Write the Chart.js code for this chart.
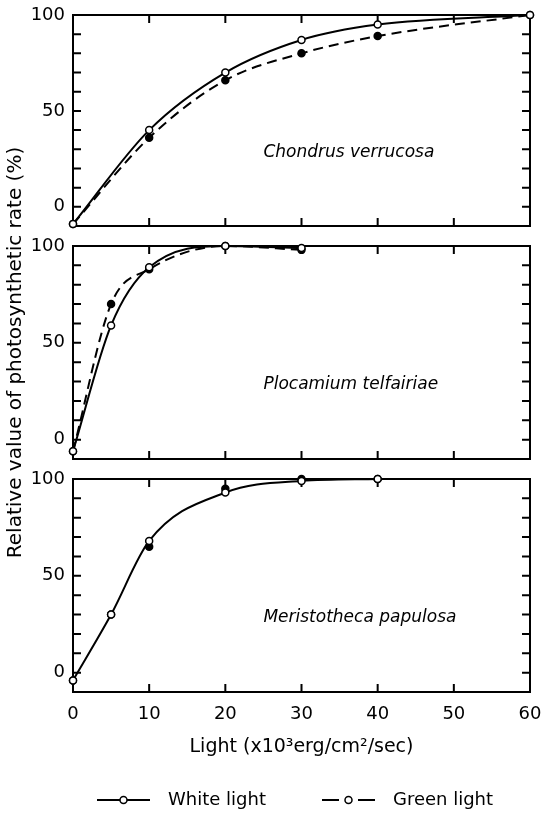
<!DOCTYPE html>
<html><head><meta charset="utf-8">
<script src="https://cdn.jsdelivr.net/npm/chart.js@4"></script>
<style>
html,body{margin:0;padding:0;background:#fff;}
#wrap{position:relative;width:541px;height:814px;overflow:hidden;}
#wrap canvas{position:absolute;left:0;top:0;}
</style></head><body>
<div id="wrap">
<canvas id="c1" width="541" height="814"></canvas>
<canvas id="c2" width="541" height="814"></canvas>
<canvas id="c3" width="541" height="814"></canvas>
<canvas id="c4" width="541" height="814"></canvas>
</div>
<script>
// ---- data ----
const lightChondrus = [0, 10, 20, 30, 40, 60];
const whiteChondrus = [-9, 40, 70, 87, 95, 100];
const greenChondrus = [-9, 36, 66, 80, 89, 100];

const lightPlocamium = [0, 5, 10, 20, 30];
const whitePlocamium = [-6, 59, 89, 100, 99];
const greenPlocamium = [-6, 70, 88, 100, 98];

const lightMeristotheca = [0, 5, 10, 20, 30, 40];
const whiteMeristotheca = [-4, 30, 68, 93, 99, 100];
const greenMeristotheca = [-4, 30, 65, 95, 100, 100];

const xTicks = [0, 10, 20, 30, 40, 50, 60];
const yTickLabels = [0, 50, 100];
const seriesNames = ['White light', 'Green light'];
const speciesNames = ['Chondrus verrucosa', 'Plocamium telfairiae', 'Meristotheca papulosa'];
const xTitle = 'Light (x10\u00B3erg/cm\u00B2/sec)';
const yTitle = 'Relative value of photosynthetic rate (%)';

// ---- helpers ----
Chart.defaults.font.family = '"DejaVu Sans", sans-serif';
Chart.defaults.color = '#000';

const zip = (xs, ys) => xs.map((x, i) => ({x: x, y: ys[i]}));

const framePlugin = {
  id: 'frame',
  beforeDatasetsDraw(chart) {
    const {ctx, chartArea: a, scales} = chart;
    const x = scales.x, y = scales.y;
    const L = 8;
    ctx.save();
    ctx.strokeStyle = '#000';
    ctx.lineWidth = 2;
    ctx.strokeRect(a.left, a.top, a.right - a.left, a.bottom - a.top);
    ctx.beginPath();
    y.ticks.forEach(t => {
      if (t.value > y.min && t.value < y.max) {
        const py = y.getPixelForValue(t.value);
        ctx.moveTo(a.left, py); ctx.lineTo(a.left + L, py);
        ctx.moveTo(a.right, py); ctx.lineTo(a.right - L, py);
      }
    });
    xTicks.forEach(v => {
      if (v > x.min && v < x.max) {
        const px = x.getPixelForValue(v);
        ctx.moveTo(px, a.top); ctx.lineTo(px, a.top + L);
        ctx.moveTo(px, a.bottom); ctx.lineTo(px, a.bottom - L);
      }
    });
    ctx.stroke();
    ctx.restore();
  }
};

const speciesPlugin = {
  id: 'species',
  afterDatasetsDraw(chart, args, opts) {
    if (!opts || !opts.text) return;
    const {ctx, scales} = chart;
    ctx.save();
    ctx.font = 'italic 17px "DejaVu Sans"';
    ctx.fillStyle = '#000';
    ctx.textAlign = 'left';
    ctx.textBaseline = 'middle';
    ctx.fillText(opts.text, scales.x.getPixelForValue(opts.x), scales.y.getPixelForValue(opts.y));
    ctx.restore();
  }
};

function symbolCanvas(dashed) {
  const c = document.createElement('canvas');
  c.width = 98; c.height = 12;
  const g = c.getContext('2d');
  g.strokeStyle = '#000';
  g.lineWidth = 2;
  g.beginPath();
  if (dashed) {
    g.moveTo(36, 6); g.lineTo(53, 6);
    g.moveTo(72, 6); g.lineTo(89, 6);
  } else {
    g.moveTo(36, 6); g.lineTo(89, 6);
  }
  g.stroke();
  g.beginPath();
  g.arc(62.5, 6, 3.5, 0, Math.PI * 2);
  g.fillStyle = '#fff';
  g.fill();
  g.lineWidth = 1.5;
  g.stroke();
  return c;
}

function makeDatasets(xs, white, green, greenLine) {
  const common = {
    borderColor: '#000', borderWidth: 2, pointRadius: 3.5, pointBorderWidth: 1.5,
    pointBorderColor: '#000', cubicInterpolationMode: 'monotone', clip: false, fill: false
  };
  return [
    Object.assign({}, common, {label: seriesNames[0], data: zip(xs, white), pointBackgroundColor: '#fff'}),
    Object.assign({}, common, {label: seriesNames[1], data: zip(xs, green), pointBackgroundColor: '#000',
      borderDash: [10, 6], showLine: greenLine})
  ];
}

function makeChart(id, cfg) {
  const yScale = {
    type: 'linear', position: 'left', min: -10, max: 100,
    grid: {display: false, drawTicks: false}, border: {display: false},
    ticks: {stepSize: 10, autoSkip: false, padding: 8, font: {size: 18}, color: '#000',
      callback: v => yTickLabels.includes(v) ? String(v) : ''},
    title: cfg.yTitle ? {display: true, text: yTitle, font: {size: 20}, color: '#000', padding: {top: 4, bottom: 0}} : {display: false},
    afterFit: s => { s.width = 73; s.paddingTop = 0; s.paddingBottom = 0; }
  };
  const xScale = {
    type: 'linear', position: 'bottom', min: 0, max: 60,
    grid: {display: false, drawTicks: false}, border: {display: false},
    ticks: {display: cfg.showX, stepSize: 10, autoSkip: false, maxRotation: 0, padding: 12, font: {size: 18}, color: '#000'},
    title: cfg.showX ? {display: true, text: xTitle, font: {size: 19}, color: '#000', padding: {top: 0, bottom: 13}} : {display: false},
    afterFit: s => { s.height = cfg.xHeight; s.paddingLeft = 0; s.paddingRight = 0; }
  };
  return new Chart(document.getElementById(id), {
    type: 'line',
    data: {datasets: cfg.datasets},
    options: {
      responsive: false, animation: false, events: [],
      layout: {padding: cfg.padding},
      scales: {x: xScale, y: yScale},
      plugins: {
        tooltip: {enabled: false},
        legend: {display: false},
        species: cfg.species
      }
    },
    plugins: [framePlugin, speciesPlugin]
  });
}

makeChart('c1', {
  datasets: makeDatasets(lightChondrus, whiteChondrus, greenChondrus, true),
  padding: {top: 15, bottom: 588, left: 0, right: 11},
  xHeight: 0, showX: false, yTitle: false,
  species: {text: speciesNames[0], x: 25, y: 28.5}
});
makeChart('c2', {
  datasets: makeDatasets(lightPlocamium, whitePlocamium, greenPlocamium, true),
  padding: {top: 246, bottom: 355, left: 0, right: 11},
  xHeight: 0, showX: false, yTitle: true,
  species: {text: speciesNames[1], x: 25, y: 28.5}
});
makeChart('c3', {
  datasets: makeDatasets(lightMeristotheca, whiteMeristotheca, greenMeristotheca, false),
  padding: {top: 479, bottom: 43, left: 0, right: 11},
  xHeight: 79, showX: true, yTitle: false,
  species: {text: speciesNames[2], x: 25, y: 28.5}
});

// legend-only chart (shared legend for the three panels)
new Chart(document.getElementById('c4'), {
  type: 'line',
  data: {datasets: seriesNames.map(n => ({label: n, data: []}))},
  options: {
    responsive: false, animation: false, events: [],
    layout: {padding: {top: 0, bottom: 0, left: 41, right: 11}},
    scales: {x: {display: false}, y: {display: false}},
    plugins: {
      tooltip: {enabled: false},
      legend: {
        display: true, position: 'bottom', align: 'start', maxHeight: 43,
        labels: {
          usePointStyle: true, pointStyleWidth: 98, padding: 20,
          font: {size: 18}, color: '#000',
          generateLabels: () => seriesNames.map((n, i) => ({
            text: n, pointStyle: symbolCanvas(i === 1), fillStyle: '#fff', strokeStyle: '#000',
            lineWidth: 1, hidden: false, datasetIndex: i, fontColor: '#000'
          }))
        }
      }
    }
  }
});
</script>
</body></html>
